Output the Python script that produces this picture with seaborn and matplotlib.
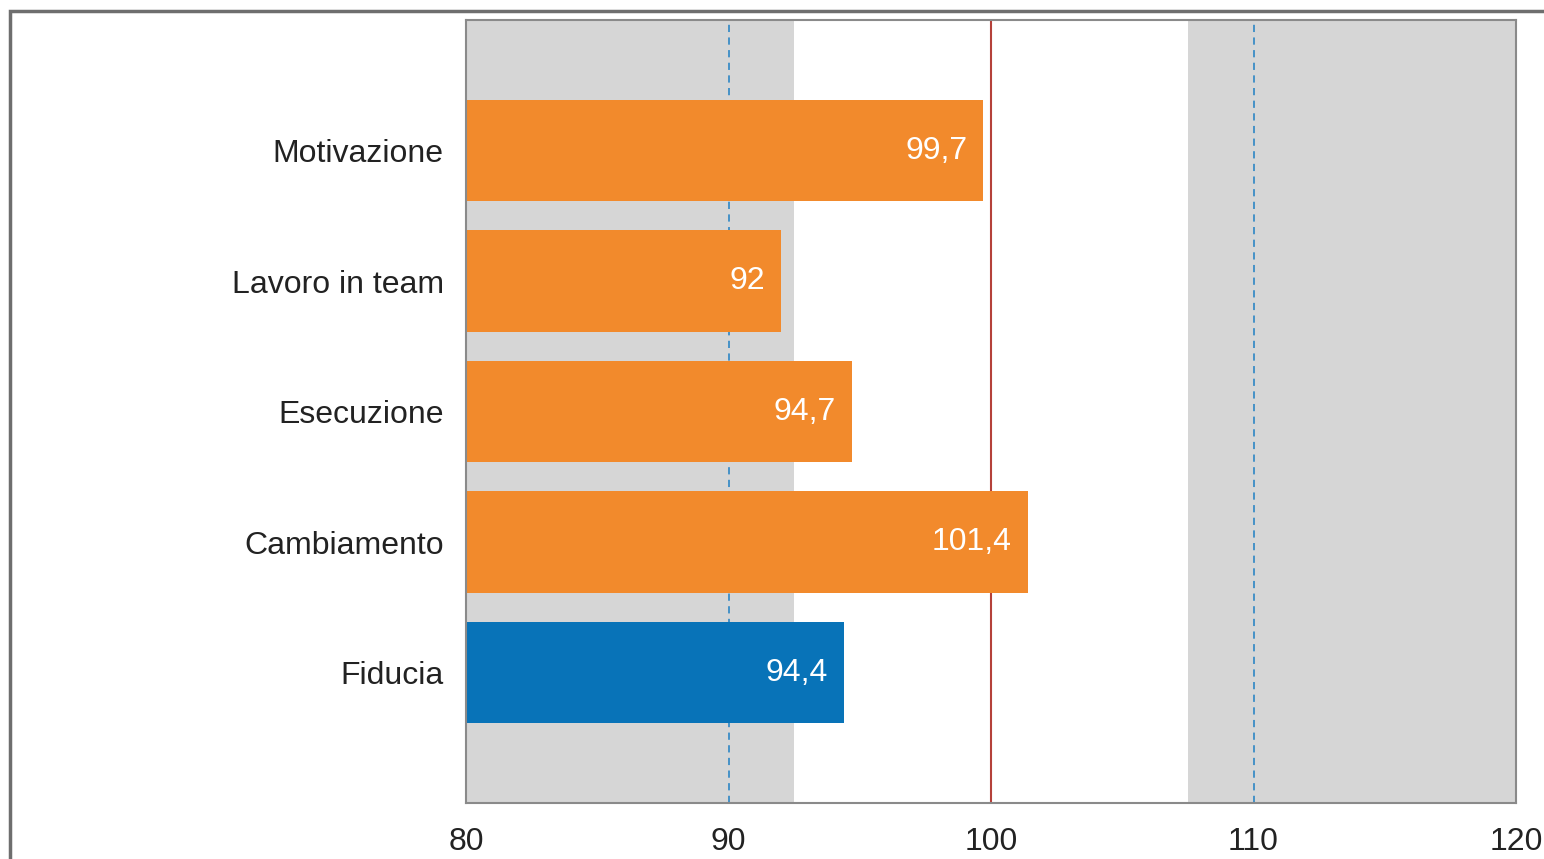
import matplotlib
matplotlib.use("Agg")
import matplotlib.pyplot as plt
from matplotlib.patches import Rectangle
import seaborn as sns
import pandas as pd

categories = ["Motivazione", "Lavoro in team", "Esecuzione", "Cambiamento", "Fiducia"]
values = [99.7, 92.0, 94.7, 101.4, 94.4]
value_labels = ["99,7", "92", "94,7", "101,4", "94,4"]
xticks = [80, 90, 100, 110, 120]

ORANGE = "#F28A2C"
BLUE = "#0873B8"
BAND = "#D6D6D6"

sns.set_theme(style="white")
plt.rcParams["font.family"] = ["Liberation Sans", "DejaVu Sans"]

df = pd.DataFrame({"categoria": categories, "valore": values})
palette = [ORANGE, ORANGE, ORANGE, ORANGE, BLUE]

fig = plt.figure(figsize=(15.44, 8.59), dpi=100)
ax = fig.add_axes([466 / 1544, 1 - 803 / 859, (1516 - 466) / 1544, (803 - 20) / 859])

# shaded ranges below 92.5 and above 107.5
ax.axvspan(80, 92.5, color=BAND, zorder=0, lw=0)
ax.axvspan(107.5, 120, color=BAND, zorder=0, lw=0)
ax.axvline(90, color="#3A8CC6", lw=1.3, ls=(0, (4, 3)), zorder=1)
ax.axvline(110, color="#3A8CC6", lw=1.3, ls=(0, (4, 3)), zorder=1)
ax.axvline(100, color="#B5413A", lw=1.5, zorder=1)

sns.barplot(data=df, y="categoria", x="valore", hue="categoria", palette=palette,
            legend=False, orient="h", width=0.78, saturation=1, ax=ax, zorder=2,
            linewidth=0)

for i, (v, lab) in enumerate(zip(values, value_labels)):
    ax.text(v - 0.6, i, lab, color="white", ha="right", va="center",
            fontsize=23, zorder=3)

ax.set_xlim(80, 120)
ax.set_ylim(5, -1)
ax.set_xticks(xticks)
ax.set_xticklabels([str(t) for t in xticks], fontsize=23, color="#222222")
ax.tick_params(axis="y", labelsize=23, labelcolor="#222222", pad=16, length=0)
ax.tick_params(axis="x", pad=17, length=0)
ax.set_xlabel("")
ax.set_ylabel("")
for s in ax.spines.values():
    s.set_color("#8A8A8A")
    s.set_linewidth(1.5)
    s.set_visible(True)

# outer frame around the figure
fig.patches.append(Rectangle((10 / 1544, -0.1), 1.2, 1 - 11 / 859 + 0.1,
                             transform=fig.transFigure, fill=False,
                             edgecolor="#6E6E6E", lw=2.5))

fig.savefig("out.png", dpi=100)
